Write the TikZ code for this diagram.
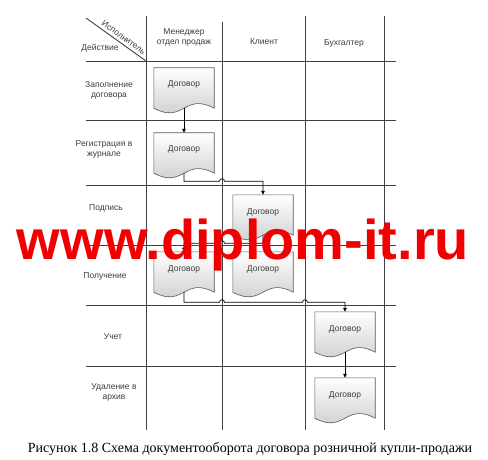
\documentclass[tikz,border=0pt]{standalone}
\usepackage{fontspec}
\setmainfont{Liberation Serif}
\setsansfont{Liberation Sans}
\usetikzlibrary{arrows.meta,calc}
\pgfdeclarelayer{back}
\pgfdeclarelayer{paper}
\pgfsetlayers{back,paper,main}
\definecolor{wmred}{RGB}{240,0,0}
\definecolor{ink}{RGB}{60,60,60}

\begin{document}
\begin{tikzpicture}[x=1pt,y=1pt,node distance=65pt]
    \tikzstyle{lbl} = [font=\sffamily\fontsize{8.5}{10}\selectfont,text=ink,align=center]
    \tikzstyle{docu} = [font=\sffamily\fontsize{8.5}{10}\selectfont,text=ink,minimum width=60pt,minimum height=40pt,inner sep=0pt,text height=6pt,text depth=8pt]
    \tikzstyle{sheet} = [draw=black!65,line width=0.6pt,top color=white,bottom color=black!22]
    \tikzstyle{lane} = [draw=black!75,line width=0.9pt]
    \tikzstyle{flow} = [draw=black,line width=0.7pt,-{Triangle[length=4pt,width=3.5pt]}]
    \useasboundingbox (0,0) rectangle (488,-460);

    % table
    \coordinate (dg1) at (86,-18);
    \coordinate (dg2) at (146,-61);
    \coordinate (v1) at (222,0);
    \coordinate (v2) at (305,0);
    \begin{pgfonlayer}{back}
        \foreach \x/\t in {146/16,222/22,305/16,384/16}
            \draw[lane] (\x,-\t) -- (\x,-430);
        \foreach \y in {61,120,185,245,305,366}
            \draw[lane] (86,-\y) -- (396,-\y);
        \draw[lane] (dg1) -- (dg2);
    \end{pgfonlayer}

    % headers
    \node[lbl,rotate=-35.6,anchor=south,inner sep=3pt] (isp) at ($(dg1)!0.57!(dg2)$) {Исполнитель};
    \node[lbl] (act) at (100,-48) {Действие};
    \node[lbl] (mgr) at (184,-37) {Менеджер\\отдел продаж};
    \node[lbl] (cli) at (264,-42) {Клиент};
    \node[lbl] (acc) at (344,-43) {Бухгалтер};

    \node[lbl] (r1) at (109,-90) {Заполнение\\договора};
    \node[lbl] (r2) at (104,-149) {Регистрация в\\журнале};
    \node[lbl] (r3) at (106,-208) {Подпись};
    \node[lbl] (r4) at (105,-276) {Получение};
    \node[lbl] (r5) at (113,-337) {Учет};
    \node[lbl] (r6) at (114,-392) {Удаление в\\архив};

    % documents
    \node[docu] (d1) at (184,-88) {Договор};
    \node[docu,below of=d1] (d2) {Договор};
    \node[docu] (d3) at (263,-215) {Договор};
    \node[docu] (d4) at (184,-272) {Договор};
    \node[docu,right of=d4,node distance=79pt] (d5) {Договор};
    \node[docu] (d6) at (345,-332) {Договор};
    \node[docu,below of=d6,node distance=66pt] (d7) {Договор};
    \begin{pgfonlayer}{paper}
        \foreach \d in {d1,d2,d3,d4,d5,d6,d7}
            \draw[sheet] (\d.north west) -- (\d.north east) -- (\d.south east)
                .. controls ($(\d.south)+(0,16)$) and ($(\d.south)+(0,-16)$) .. (\d.south west) -- cycle;
    \end{pgfonlayer}

    % flow of the contract
    \coordinate (b2) at ($(d2.south)+(0,-8)$);
    \coordinate (b3) at ($(d3.south)+(0,-8)$);
    \coordinate (b4) at ($(d4.south)+(0,-10)$);
    \draw[flow] (d1.south) -- (d2.north);
    \draw[flow] (d2.south) -- (b2) -- ($(b2 -| v1)+(-2.5,0)$) arc[start angle=180,end angle=0,radius=2.5pt] -| (d3.north);
    \draw[flow] (d3.south) -- (b3) -- ($(b3 -| v1)+(2.5,0)$) arc[start angle=0,end angle=180,radius=2.5pt] -| (d4.north);
    \draw[flow] (d4.south) -- (b4) -- ($(b4 -| v1)+(-2.5,0)$) arc[start angle=180,end angle=0,radius=2.5pt]
        -- ($(b4 -| v2)+(-2.5,0)$) arc[start angle=180,end angle=0,radius=2.5pt] -| (d6.north);
    \draw[flow] (d6.south) -- (d7.north);

    \node[font=\sffamily\bfseries\fontsize{56}{60}\selectfont,text=wmred,anchor=base,inner sep=0pt] (wm) at (243,-259) {www.diplom-it.ru};
    \node[font=\rmfamily\fontsize{14}{16}\selectfont,anchor=base,inner sep=0pt] (cap) at (250,-452) {Рисунок 1.8 Схема документооборота договора розничной купли-продажи};
\end{tikzpicture}
\end{document}
